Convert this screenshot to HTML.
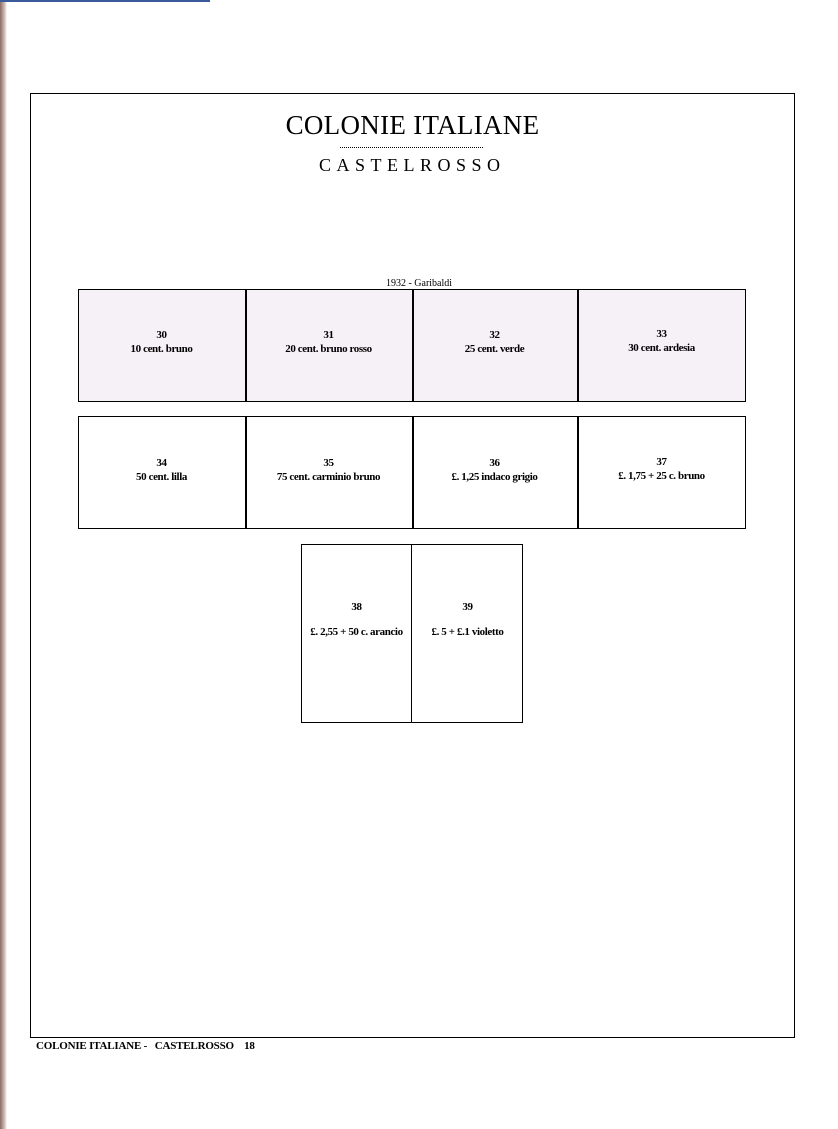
<!DOCTYPE html>
<html><head><style>
body{margin:0;width:838px;height:1129px;background:#fff;position:relative;overflow:hidden;font-family:"Liberation Serif",serif;color:#000}
.a{position:absolute}
.box{position:absolute;border:1.5px solid #000;box-sizing:border-box}
.c{position:absolute;text-align:center;font-size:11px;line-height:14px;font-weight:bold;letter-spacing:-0.4px}
.v{position:absolute;width:1.5px;background:#000}
</style></head><body>
<div class="a" style="left:0;top:0;width:7px;height:1129px;background:linear-gradient(90deg,#8a6a60,#d8c4bc 70%,#fff)"></div>
<div class="a" style="left:0;top:0;width:210px;height:2px;background:#3a5a9a"></div>
<div class="box" style="left:30px;top:93px;width:765px;height:945px;border-width:1px"></div>
<div class="a" style="left:280px;top:110px;width:265px;text-align:center;font-size:27px;white-space:nowrap;letter-spacing:0.3px">COLONIE ITALIANE</div>
<div class="a" style="left:340px;top:147px;width:143px;border-top:1px dotted #000"></div>
<div class="a" style="left:319px;top:155px;font-size:18px;letter-spacing:5.5px;white-space:nowrap">CASTELROSSO</div>
<div class="a" style="left:0;top:278px;width:838px;text-align:center;font-size:10px">1932 - Garibaldi</div>

<div class="box" style="left:78px;top:289px;width:668px;height:113px;background:#f6f1f6"></div>
<div class="v" style="left:245px;top:289px;height:113px"></div>
<div class="v" style="left:412px;top:289px;height:113px"></div>
<div class="v" style="left:577px;top:289px;height:113px"></div>
<div class="c" style="left:78px;top:328px;width:167px">30<br>10 cent. bruno</div>
<div class="c" style="left:245px;top:328px;width:167px">31<br>20 cent. bruno rosso</div>
<div class="c" style="left:412px;top:328px;width:165px">32<br>25 cent. verde</div>
<div class="c" style="left:577px;top:327px;width:169px">33<br>30 cent. ardesia</div>

<div class="box" style="left:78px;top:416px;width:668px;height:113px"></div>
<div class="v" style="left:245px;top:416px;height:113px"></div>
<div class="v" style="left:412px;top:416px;height:113px"></div>
<div class="v" style="left:577px;top:416px;height:113px"></div>
<div class="c" style="left:78px;top:456px;width:167px">34<br>50 cent. lilla</div>
<div class="c" style="left:245px;top:456px;width:167px">35<br>75 cent. carminio bruno</div>
<div class="c" style="left:412px;top:456px;width:165px">36<br>£. 1,25 indaco grigio</div>
<div class="c" style="left:577px;top:455px;width:169px">37<br>£. 1,75 + 25 c. bruno</div>

<div class="box" style="left:301px;top:544px;width:222px;height:179px;border-width:1px"></div>
<div class="v" style="left:411px;top:544px;height:179px;width:1px"></div>
<div class="c" style="left:301px;top:595px;width:111px;line-height:25px">38<br>£. 2,55 + 50 c. arancio</div>
<div class="c" style="left:412px;top:595px;width:111px;line-height:25px">39<br>£. 5 + £.1 violetto</div>

<div class="a" style="left:36px;top:1040px;font-size:11px;font-weight:bold;letter-spacing:-0.2px;white-space:pre">COLONIE ITALIANE -   CASTELROSSO    18</div>
</body></html>
